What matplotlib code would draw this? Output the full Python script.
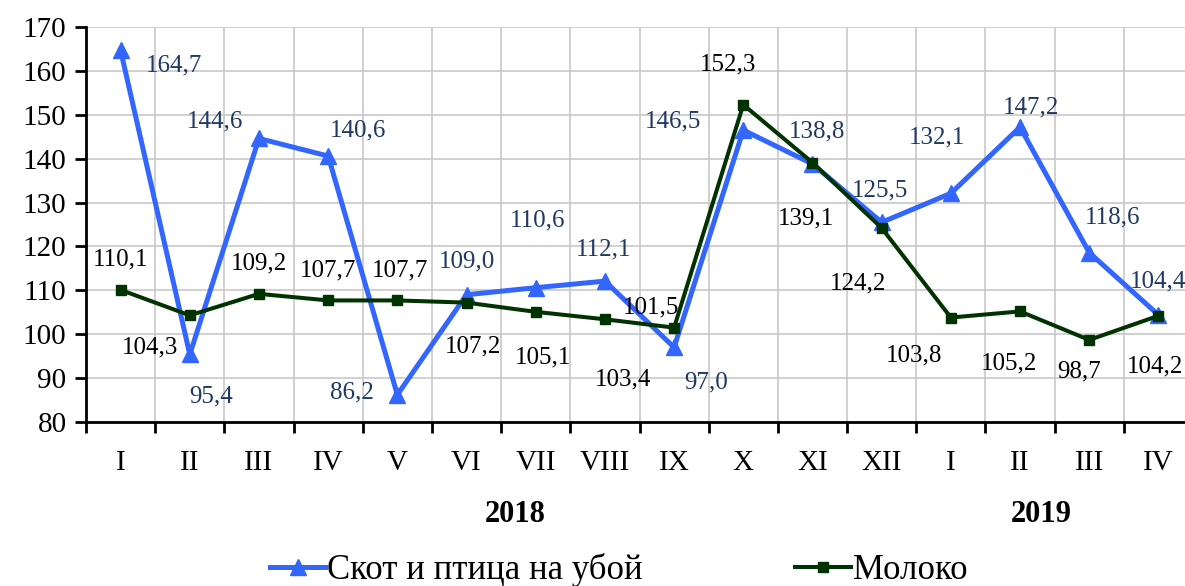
import matplotlib
matplotlib.use("Agg")
import matplotlib.pyplot as plt
from matplotlib.ticker import FixedLocator, MultipleLocator

plt.rcParams["font.family"] = ["Liberation Serif", "DejaVu Serif"]

months = ["I", "II", "III", "IV", "V", "VI", "VII", "VIII", "IX", "X", "XI", "XII",
          "I", "II", "III", "IV"]
years = ["2018", "2019"]
cattle = [164.7, 95.4, 144.6, 140.6, 86.2, 109.0, 110.6, 112.1, 97.0, 146.5,
          138.8, 125.5, 132.1, 147.2, 118.6, 104.4]
milk = [110.1, 104.3, 109.2, 107.7, 107.7, 107.2, 105.1, 103.4, 101.5, 152.3,
        139.1, 124.2, 103.8, 105.2, 98.7, 104.2]

# label offsets in pixels (dx, dy), dy positive = up
cattle_off = [(53, -15), (21, -42), (-44, 17), (30, 26), (-45, 2), (0, 33),
              (2, 67), (-1, 32), (32, -35), (-70, 9), (5, 32), (-2, 32),
              (-14, 56), (11, 20), (23, 35), (0, 33)]
milk_off = [(0, 30), (-40, -32), (0, 30), (0, 30), (3, 30), (7, -44),
            (7, -46), (18, -60), (-23, 20), (-15, 40), (-6, -56), (-24, -55),
            (-37, -38), (-11, -52), (-10, -32), (-3, -51)]

blue = "#3366FF"
green = "#003300"
label_blue = "#1F3864"

fig = plt.figure(figsize=(11.85, 5.86), dpi=100)
ax = fig.add_axes([86 / 1185, 164 / 586, 1107 / 1185, 395 / 586])

x = list(range(len(months)))
ax.plot(x, cattle, color=blue, lw=3.6, marker="^", ms=11, zorder=3,
        label="Скот и птица на убой")
ax.plot(x, milk, color=green, lw=2.9, marker="s", ms=7, zorder=4,
        label="Молоко")

for i, v in enumerate(cattle):
    dx, dy = cattle_off[i]
    ax.annotate(f"{v:.1f}".replace(".", ","), (i, v), xytext=(dx * 0.72, dy * 0.72),
                textcoords="offset points", ha="center", va="center",
                fontsize=18, color=label_blue, zorder=5)
for i, v in enumerate(milk):
    dx, dy = milk_off[i]
    ax.annotate(f"{v:.1f}".replace(".", ","), (i, v), xytext=(dx * 0.72, dy * 0.72),
                textcoords="offset points", ha="center", va="center",
                fontsize=18, color="black", zorder=5)

ax.set_xlim(-0.5, len(months) - 0.5)
ax.set_ylim(80, 170)
ax.yaxis.set_major_locator(MultipleLocator(10))
ax.xaxis.set_major_locator(FixedLocator([i - 0.5 for i in range(len(months) + 1)]))
ax.xaxis.set_minor_locator(FixedLocator(x))
ax.set_xticklabels([])
ax.set_xticklabels(months, minor=True)
ax.tick_params(axis="x", which="major", length=8, width=2, direction="out")
ax.tick_params(axis="x", which="minor", length=0, pad=20, labelsize=21)
ax.tick_params(axis="y", length=8, width=2, direction="out", labelsize=21, pad=6)

ax.grid(True, which="major", color="#C8C8C8", lw=1.2)
ax.set_axisbelow(True)
for side in ["top", "right"]:
    ax.spines[side].set_visible(False)
for side in ["left", "bottom"]:
    ax.spines[side].set_linewidth(2)

ax.text(5.7, -0.235, years[0], transform=ax.get_xaxis_transform(), ha="center",
        va="center", fontsize=22, fontweight="bold")
ax.text(13.3, -0.235, years[1], transform=ax.get_xaxis_transform(), ha="center",
        va="center", fontsize=22, fontweight="bold")

fig.legend(loc="center", bbox_to_anchor=(0.522, 16 / 586), ncol=2, frameon=False,
           fontsize=25, handlelength=1.6, handletextpad=0.05, columnspacing=4.4,
           borderaxespad=0)

fig.savefig("out.png", dpi=100)
plt.close(fig)
